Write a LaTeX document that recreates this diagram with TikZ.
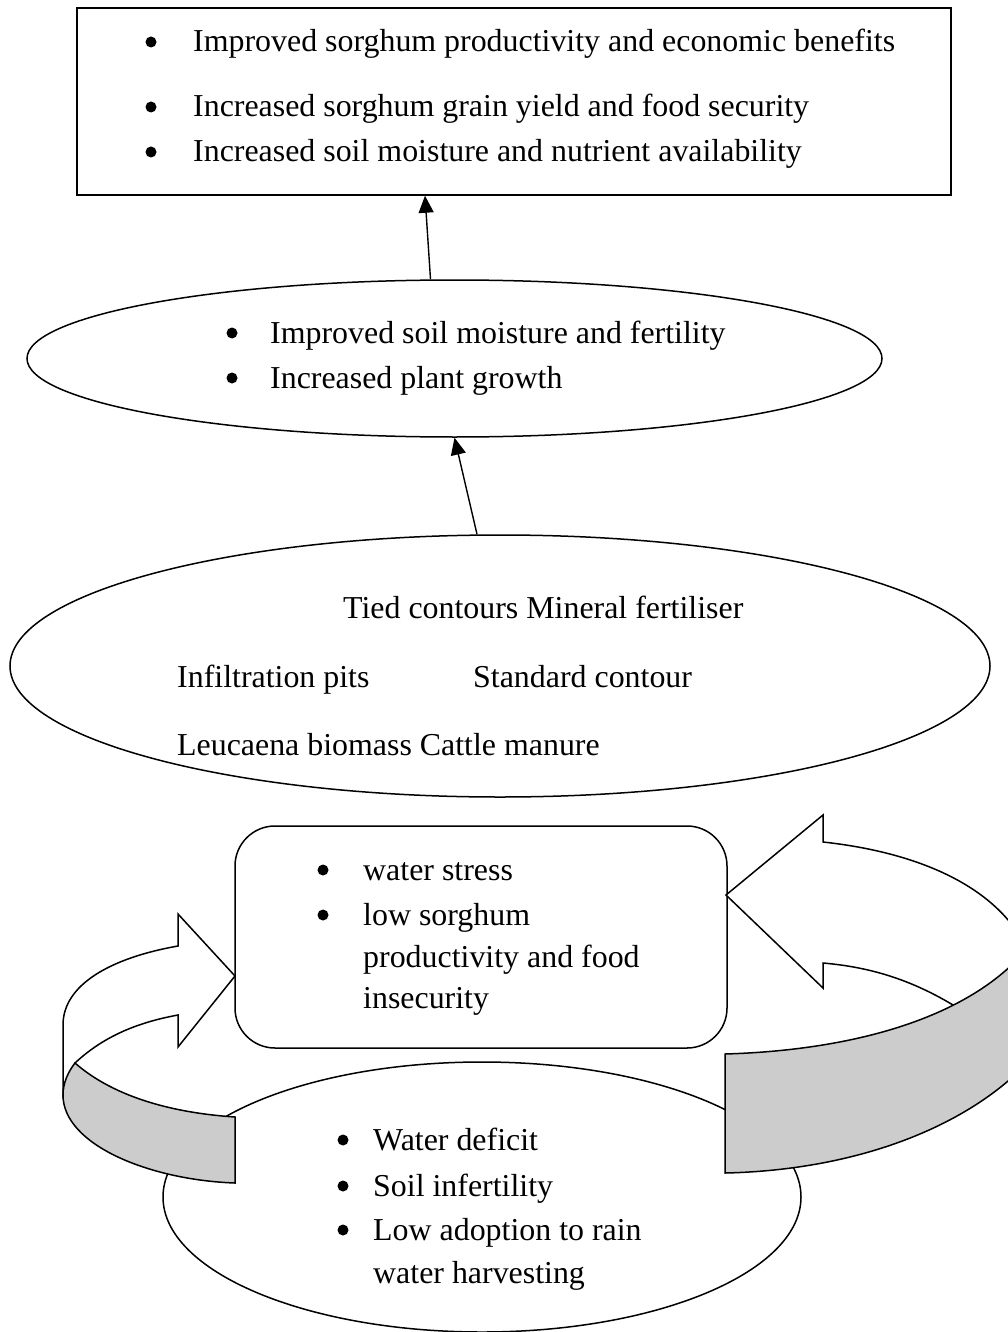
\documentclass[tikz,border=0pt]{standalone}
\usepackage{fontspec}
\setmainfont{Liberation Serif}
\usetikzlibrary{shapes.geometric,arrows.meta}
\begin{document}
\begin{tikzpicture}[x=1pt, y=-1pt,
        every node/.style = {font=\fontsize{31.9}{44}\selectfont},
        box/.style = {draw, line width=1.5pt, inner sep=0pt},
        oval/.style = {box, ellipse},
        txt/.style = {anchor=base west, inner sep=0pt},
        dot/.style = {circle, fill, inner sep=0pt, minimum size=11pt},
        arr/.style = {line width=1.4pt, -{Triangle[length=17pt,width=15pt]}},
        band/.style = {draw, line width=1.5pt, fill=black!20},
        turn/.style = {draw, line width=1.5pt, fill=white}]
    \useasboundingbox (0,0) rectangle (1008,1332);
    % frames
    \node[box, minimum width=874pt, minimum height=187pt] (outcome) at (514,101.5) {};
    \node[oval, minimum width=855pt, minimum height=157pt] (effect) at (454.5,358.5) {};
    \node[oval, minimum width=980pt, minimum height=262pt] (practice) at (500,666) {};
    \node[box, rounded corners=40pt, minimum width=492pt, minimum height=222pt] (problem) at (481,937) {};
    \node[oval, minimum width=638pt, minimum height=270pt] (cause) at (482,1197) {};
    % links
    \draw[arr] ([xshift=-24pt]effect.north) -- ([xshift=-89pt]outcome.south);
    \draw[arr] ([xshift=-23pt]practice.north) -- (effect.south);
    % cycle arrows
    \begin{scope}
        \clip (0,0) rectangle (1008,1332);
        \path[turn] (235,976) -- (178,914) -- (178,946)
            .. controls (110,958) and (63,985) .. (63,1025) -- (63,1095)
            -- (75,1063) .. controls (105,1035) and (140,1022) .. (178,1015)
            -- (178,1047) -- cycle;
        \path[band] (75,1063) .. controls (115,1098) and (175,1113) .. (235,1117)
            -- (235,1183) .. controls (150,1180) and (63,1145) .. (63,1095)
            .. controls (63,1083) and (68,1072) .. (75,1063) -- cycle;
        \path[turn] (726,895) -- (823,815) -- (823,842)
            .. controls (915,852) and (1000,885) .. (1030,955) -- (1030,1030)
            -- (990,1030) .. controls (930,985) and (880,968) .. (823,963)
            -- (823,988) -- cycle;
        \path[band] (725,1054) .. controls (860,1050) and (975,1015) .. (1030,945)
            -- (1030,1060) .. controls (970,1125) and (860,1170) .. (725,1173) -- cycle;
    \end{scope}
    % texts
    \foreach \y/\t in {52/Improved sorghum productivity and economic benefits,
            117/Increased sorghum grain yield and food security,
            162/Increased soil moisture and nutrient availability} {
        \node[dot] (out-b\y) at (151,\y-10) {};
        \node[txt] (out-t\y) at (193,\y) {\t};
    }
    \foreach \y/\t in {343/Improved soil moisture and fertility, 388/Increased plant growth} {
        \node[dot] (eff-b\y) at (232,\y-10) {};
        \node[txt] (eff-t\y) at (270,\y) {\t};
    }
    \node[txt] (prac-1) at (343,618) {Tied contours Mineral fertiliser};
    \node[txt] (prac-2) at (177,687) {Infiltration pits};
    \node[txt] (prac-3) at (473,687) {Standard contour};
    \node[txt] (prac-4) at (177,755) {Leucaena biomass Cattle manure};
    \foreach \y in {880,925} \node[dot] (prob-b\y) at (323,\y-10) {};
    \foreach \y/\t in {880/water stress, 925/low sorghum, 967/productivity and food, 1008/insecurity}
        \node[txt] (prob-t\y) at (363,\y) {\t};
    \foreach \y in {1150,1196,1240} \node[dot] (cau-b\y) at (343,\y-10) {};
    \foreach \y/\t in {1150/Water deficit, 1196/Soil infertility, 1240/Low adoption to rain, 1283/water harvesting}
        \node[txt] (cau-t\y) at (373,\y) {\t};
\end{tikzpicture}
\end{document}
